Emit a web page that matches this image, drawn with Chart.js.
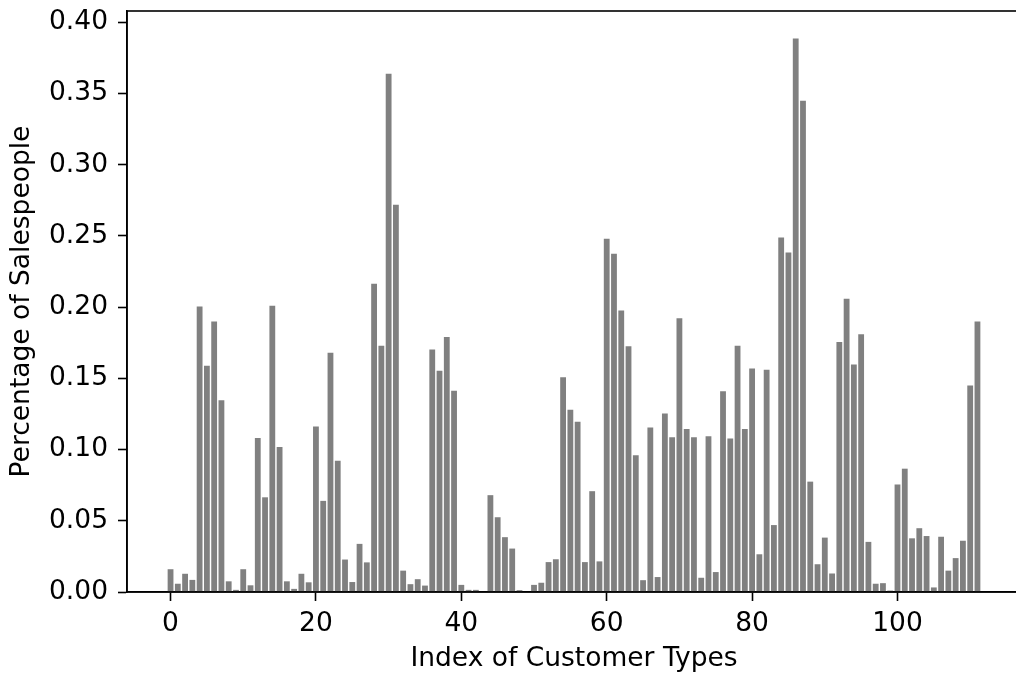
<!DOCTYPE html>
<html>
<head>
<meta charset="utf-8">
<script src="https://cdn.jsdelivr.net/npm/chart.js"></script>
<style>
  html, body { margin: 0; padding: 0; background: #fff; overflow: hidden; }
  #wrap { position: relative; width: 1024px; height: 679px; }
</style>
</head>
<body>
<div id="wrap"><canvas id="myChart"></canvas></div>
<script>
// share of salespeople per customer type index (0..111)
const customerTypes = [];
for (let i = 0; i < 112; i++) customerTypes.push(i);

const salesShare = [
  0.0160, 0.0058, 0.0128, 0.0085, 0.2005, 0.1588, 0.1900, 0.1346, 0.0075, 0.0015,
  0.0160, 0.0047, 0.1082, 0.0665, 0.2010, 0.1018, 0.0075, 0.0022, 0.0128, 0.0068,
  0.1163, 0.0640, 0.1680, 0.0921, 0.0228, 0.0070, 0.0338, 0.0208, 0.2164, 0.1730,
  0.3640, 0.2720, 0.0150, 0.0055, 0.0090, 0.0045, 0.1703, 0.1553, 0.1790, 0.1413,
  0.0050, 0.0015, 0.0015, 0.0000, 0.0680, 0.0525, 0.0385, 0.0305, 0.0013, 0.0000,
  0.0050, 0.0065, 0.0210, 0.0230, 0.1508, 0.1280, 0.1196, 0.0210, 0.0708, 0.0215,
  0.2480, 0.2376, 0.1976, 0.1726, 0.0960, 0.0083, 0.1156, 0.0105, 0.1253, 0.1086,
  0.1922, 0.1145, 0.1086, 0.0100, 0.1094, 0.0140, 0.1409, 0.1078, 0.1730, 0.1145,
  0.1570, 0.0265, 0.1560, 0.0470, 0.2490, 0.2384, 0.3887, 0.3449, 0.0775, 0.0195,
  0.0382, 0.0130, 0.1755, 0.2060, 0.1597, 0.1810, 0.0352, 0.0058, 0.0062, 0.0010,
  0.0755, 0.0866, 0.0377, 0.0448, 0.0393, 0.0032, 0.0388, 0.0150, 0.0238, 0.0360,
  0.1450, 0.1900
];

const xTitle = 'Index of Customer Types';
const yTitle = 'Percentage of Salespeople';

const FONT = 'DejaVu Sans';
const FSIZE = 26.5;

// draws the box around the plot area (top/right spines)
const frame = {
  id: 'frame',
  afterDraw(chart) {
    const a = chart.chartArea, c = chart.ctx;
    c.save();
    c.strokeStyle = '#000';
    c.lineWidth = 1.6;
    c.strokeRect(a.left, a.top, a.right - a.left, a.bottom - a.top);
    c.restore();
  }
};

const ctx = document.getElementById('myChart').getContext('2d');
new Chart(ctx, {
  type: 'bar',
  data: {
    datasets: [{
      data: customerTypes.map((x, i) => ({ x: x, y: salesShare[i] })),
      backgroundColor: '#808080',
      borderWidth: 0,
      barPercentage: 0.8,
      categoryPercentage: 1.0
    }]
  },
  options: {
    responsive: true,
    maintainAspectRatio: false,
    animation: false,
    layout: { padding: { top: 11, right: 3, left: 0, bottom: 0 } },
    plugins: { legend: { display: false }, tooltip: { enabled: false } },
    scales: {
      x: {
        type: 'linear',
        min: -5.99,
        max: 116.99,
        offset: false,
        afterFit(s) { s.height = 87; s.paddingLeft = 0; s.paddingRight = 0; },
        grid: { offset: false, drawOnChartArea: false, drawTicks: true, tickLength: 9, tickWidth: 1.6, tickColor: '#000' },
        border: { display: true, color: '#000', width: 1.6 },
        ticks: {
          stepSize: 20, includeBounds: false, color: '#000', padding: 7,
          maxRotation: 0,
          font: { family: FONT, size: FSIZE }
        },
        title: { display: true, text: xTitle, color: '#000', padding: { top: 6, bottom: 4 }, font: { family: FONT, size: FSIZE } }
      },
      y: {
        min: 0,
        max: 0.408,
        afterFit(s) { s.width = 127; s.paddingTop = 0; s.paddingBottom = 0; },
        grid: { drawOnChartArea: false, drawTicks: true, tickLength: 9, tickWidth: 1.6, tickColor: '#000' },
        border: { display: true, color: '#000', width: 1.6 },
        ticks: {
          stepSize: 0.05, includeBounds: false, color: '#000', padding: 10,
          font: { family: FONT, size: FSIZE },
          callback: v => v.toFixed(2)
        },
        title: { display: true, text: yTitle, color: '#000', padding: { top: 6, bottom: 6 }, font: { family: FONT, size: FSIZE } }
      }
    }
  },
  plugins: [frame]
});
</script>
</body>
</html>
